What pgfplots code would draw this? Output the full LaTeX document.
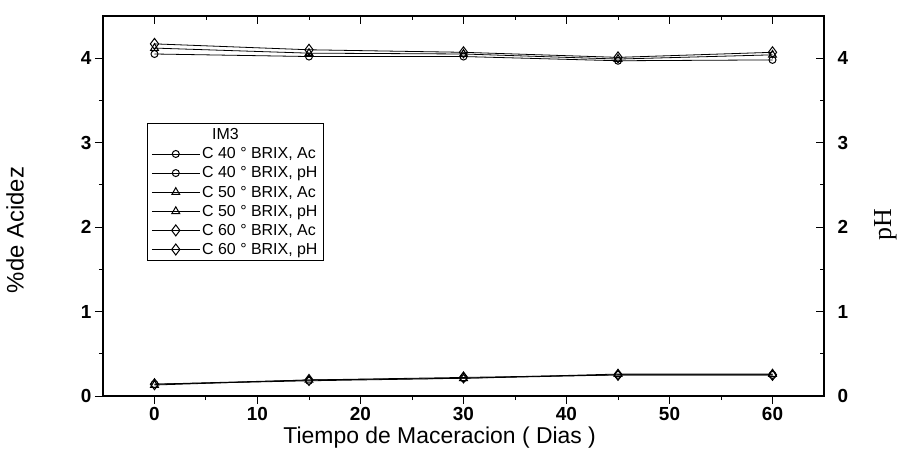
\documentclass[border=0pt]{standalone}
\usepackage{pgfplots}
\pgfplotsset{compat=1.18}
\usepackage{fontspec}
\setmainfont{Liberation Sans}
\newfontfamily\serifpH{Liberation Serif}
\begin{document}
\begin{tikzpicture}
\path[use as bounding box] (-103bp,-62bp) rectangle (797bp,396bp);
\pgfplotsset{
  every axis/.append style={
    scale only axis, width=721bp, height=380bp,
    xmin=-5, xmax=65, ymin=0, ymax=4.5,
    xtick={0,10,20,30,40,50,60}, ytick={0,1,2,3,4},
    minor x tick num=1, minor y tick num=1,
    axis line style={line width=1.2bp},
    major tick length=8bp, minor tick length=4bp,
    every tick/.style={black, line width=1bp},
    /pgf/number format/assume math mode=true,
    tick label style={font=\fontsize{19}{20}\selectfont\bfseries},
  }
}
\begin{axis}[
  at={(0,0)}, anchor=south west,
  tick pos=left, tick align=outside,
  xlabel={Tiempo de Maceracion ( Dias )},
  ylabel={\%de Acidez},
  xlabel style={font=\fontsize{23}{25}\selectfont, at={(axis description cs:0.467,-0.11)}, anchor=center},
  ylabel style={font=\fontsize{24}{26}\selectfont, at={(axis description cs:-0.122,0.437)}, anchor=center},
  legend style={at={(rel axis cs:0.061,0.718)}, anchor=north west, draw=black, line width=0.8bp,
    font=\fontsize{16}{18}\selectfont, row sep=2.5bp, inner xsep=4bp, inner ysep=3bp,
    cells={anchor=west}},
  legend image code/.code={\draw[mark repeat=2,mark phase=2,#1] plot coordinates {(0bp,0bp) (24bp,0bp) (48bp,0bp)};},
  every axis plot/.append style={black, line width=0.8bp, mark options={solid, fill=white, line width=1bp}},
]
\addlegendimage{empty legend}
\addlegendentry{\hspace{10bp}IM3}
\addplot[mark=o, mark size=3.5bp] coordinates {(0,0.14) (15,0.18) (30,0.21) (45,0.25) (60,0.25)};
\addlegendentry{C 40 ° BRIX, Ac}
\addplot[mark=o, mark size=3.5bp] coordinates {(0,4.05) (15,4.02) (30,4.02) (45,3.97) (60,3.98)};
\addlegendentry{C 40 ° BRIX, pH}
\addplot[mark=triangle, mark size=4.5bp] coordinates {(0,0.13) (15,0.19) (30,0.21) (45,0.26) (60,0.26)};
\addlegendentry{C 50 ° BRIX, Ac}
\addplot[mark=triangle, mark size=4.5bp] coordinates {(0,4.12) (15,4.06) (30,4.05) (45,3.99) (60,4.04)};
\addlegendentry{C 50 ° BRIX, pH}
\addplot[mark=diamond, mark size=5.5bp] coordinates {(0,0.14) (15,0.19) (30,0.22) (45,0.25) (60,0.25)};
\addlegendentry{C 60 ° BRIX, Ac}
\addplot[mark=diamond, mark size=5.5bp] coordinates {(0,4.17) (15,4.10) (30,4.07) (45,4.01) (60,4.07)};
\addlegendentry{C 60 ° BRIX, pH}
\end{axis}
\begin{axis}[
  at={(0,0)}, anchor=south west,
  tick pos=right, tick align=inside,
  xticklabels={}, yticklabel pos=right,
  yticklabel style={xshift=10bp},
  ylabel={\serifpH pH},
  ylabel style={font=\fontsize{26}{28}\selectfont, at={(axis description cs:1.085,0.45)}, anchor=center, rotate=0},
]
\end{axis}
\end{tikzpicture}
\end{document}
